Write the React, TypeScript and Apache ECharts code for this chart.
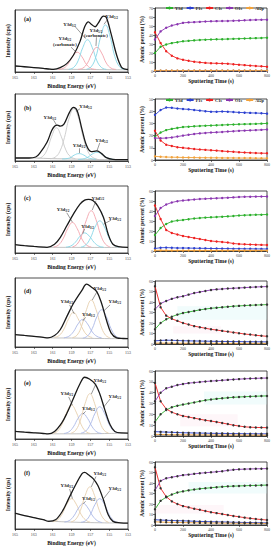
import React, { useEffect, useRef } from 'react';
import * as echarts from 'echarts';

// ---------- Depth profile data (atomic percent vs sputtering time) ----------
const timeS = [0, 40, 80, 120, 160, 200, 240, 280, 320, 360, 400, 440, 480, 520, 560, 600, 640, 680, 720, 760, 800];
const elementNames = ['Y3d', 'F1s', 'C1s', 'O1s', 'Al2p'];
const atomicMax = [70, 50, 60, 60, 60, 60];

const yA = [20, 27, 29.5, 31, 32, 33, 33.5, 34, 34.5, 34.8, 35, 35.2, 35.3, 35.5, 35.7, 35.9, 36.1, 36.3, 36.5, 36.7, 37];
const fA = [0.3, 0.3, 0.3, 0.3, 0.3, 0.3, 0.3, 0.3, 0.3, 0.3, 0.3, 0.3, 0.3, 0.3, 0.3, 0.3, 0.3, 0.3, 0.3, 0.3, 0.3];
const cA = [43, 31, 22, 17, 14, 12.5, 11.3, 10.3, 9.6, 9, 8.7, 8.5, 8.3, 8.1, 7.5, 7, 6.5, 6, 5.6, 5.2, 4.8];
const oA = [35, 44, 48, 50.5, 52, 53.5, 54, 54.3, 54.6, 55, 55.2, 55.4, 55.5, 55.6, 55.8, 56, 56.3, 56.6, 56.8, 56.9, 57];
const alA = [0.5, 0.5, 0.5, 0.5, 0.5, 0.5, 0.5, 0.5, 0.5, 0.5, 0.5, 0.5, 0.5, 0.5, 0.5, 0.5, 0.5, 0.5, 0.5, 0.5, 0.5];

const yB = [19, 22.5, 24.5, 25.5, 26.3, 27, 27.3, 27.6, 27.9, 28.1, 28.3, 28.5, 28.7, 28.9, 29.1, 29.3, 29.4, 29.5, 29.6, 29.8, 30];
const fB = [37, 41, 43, 42.8, 42.2, 41.8, 41.5, 41, 40.5, 40, 39.6, 39.5, 39.8, 39.6, 39.3, 39, 38.8, 38.6, 38.5, 38.3, 38];
const cB = [24, 16, 12.5, 11.5, 10.5, 10, 9.5, 9, 8.6, 8.3, 8, 7.7, 7.3, 7, 6.7, 6.4, 6.1, 5.9, 5.7, 5.6, 5.5];
const oB = [18, 17.8, 18, 18.5, 19.2, 20, 20.7, 21.3, 21.8, 22.2, 22.5, 22.7, 23, 23.3, 23.6, 23.9, 24.1, 24.3, 24.5, 24.7, 25];
const alB = [3, 2.6, 2.4, 2.3, 2.2, 2.1, 2, 2, 1.9, 1.9, 1.8, 1.8, 1.7, 1.7, 1.7, 1.6, 1.6, 1.6, 1.5, 1.5, 1.5];

const yC = [16, 23, 27, 29.5, 30.5, 31, 31.8, 32.5, 33, 33.4, 33.7, 34, 34.3, 34.6, 35, 35.5, 35.8, 36, 36.2, 36.3, 36.5];
const fC = [2.5, 3.3, 3.4, 3.2, 3, 3, 2.9, 2.8, 2.7, 2.6, 2.5, 2.5, 2.4, 2.4, 2.3, 2.3, 2.2, 2.2, 2.1, 2.1, 2];
const cC = [45.5, 32, 21, 18, 16.5, 15, 14, 13, 12, 11, 10, 9.5, 9, 8.5, 7.5, 7, 6.7, 6.5, 6.3, 6.1, 6];
const oC = [35, 43, 46.5, 48.5, 49.8, 50.5, 51, 51.5, 52, 52.2, 52.5, 52.8, 53, 53.3, 53.6, 54, 54.2, 54.3, 54.4, 54.5, 54.5];
const alC = [0.6, 0.6, 0.6, 0.5, 0.5, 0.5, 0.5, 0.5, 0.5, 0.5, 0.5, 0.5, 0.5, 0.5, 0.5, 0.5, 0.5, 0.5, 0.5, 0.5, 0.5];

const yD = [14, 20, 23.5, 26, 28, 29.5, 30.5, 31.5, 32.5, 33.3, 34, 34.5, 35, 35.5, 36, 36.3, 36.6, 36.9, 37.1, 37.3, 37.5];
const fD = [3, 3.4, 3.6, 3.5, 3.3, 3.1, 3, 2.9, 2.8, 2.7, 2.6, 2.5, 2.4, 2.4, 2.3, 2.3, 2.2, 2.2, 2.1, 2.1, 2];
const cD = [55, 35, 27, 24, 22, 20, 18.5, 17, 16, 15, 14, 13.3, 12.5, 11.8, 11, 10.3, 9.5, 9, 8.3, 7.8, 7.3];
const oD = [33, 38.5, 41, 43, 44.5, 45.5, 47, 48.5, 49.5, 50.5, 51.5, 52, 52.4, 52.8, 53.1, 53.4, 53.7, 54, 54.3, 54.5, 54.7];
const alD = [0.8, 0.8, 0.8, 0.8, 0.7, 0.7, 0.7, 0.7, 0.7, 0.7, 0.7, 0.6, 0.6, 0.6, 0.6, 0.6, 0.6, 0.6, 0.6, 0.6, 0.6];

const yE = [13, 20, 24, 26.5, 28, 29, 30, 31, 32, 33, 33.7, 34.3, 34.8, 35.3, 35.7, 36, 36.3, 36.5, 36.7, 36.9, 37];
const fE = [4, 3.8, 3.6, 3.4, 3.2, 3, 2.9, 2.8, 2.7, 2.6, 2.5, 2.4, 2.4, 2.3, 2.2, 2.2, 2.1, 2.1, 2, 2, 2];
const cE = [49, 32, 25, 22, 20, 18.5, 17.5, 16.5, 15.5, 14.5, 13.8, 13, 12, 11, 10, 9.2, 8.5, 8.1, 7.9, 7.8, 7.7];
const oE = [32, 40, 44, 45.5, 47, 48, 48.8, 49.3, 49.8, 50.3, 50.7, 51, 51.4, 51.8, 52.2, 52.5, 52.8, 53, 53.2, 53.4, 53.5];
const alE = [1.5, 1.4, 1.3, 1.2, 1.2, 1.1, 1.1, 1, 1, 1, 1, 0.9, 0.9, 0.9, 0.9, 0.9, 0.8, 0.8, 0.8, 0.8, 0.8];

const yF = [15, 23, 26.5, 29, 31, 32, 33, 33.8, 34.5, 35, 35.5, 36, 36.4, 36.8, 37, 37.2, 37.4, 37.6, 37.7, 37.9, 38];
const fF = [5, 4.7, 4.5, 4.3, 4.1, 4, 3.8, 3.6, 3.4, 3.3, 3.1, 3, 2.9, 2.8, 2.6, 2.5, 2.4, 2.3, 2.2, 2.1, 2];
const cF = [55, 35, 27, 22.5, 20, 18, 16.8, 15.5, 14.5, 13.3, 12.2, 11.3, 10.4, 9.5, 8.6, 7.8, 7, 6.3, 5.7, 5.2, 4.7];
const oF = [33, 42, 44.5, 45.5, 46.5, 47.5, 48, 48.7, 49.3, 49.8, 50.2, 50.7, 51.2, 52, 52.6, 53, 53.2, 53.4, 53.5, 53.6, 53.7];
const alF = [3, 2.8, 2.6, 2.5, 2.4, 2.3, 2.2, 2.1, 2, 2, 1.9, 1.9, 1.8, 1.8, 1.7, 1.7, 1.6, 1.6, 1.6, 1.5, 1.5];

// ---------- XPS Y3d spectra: [binding energy (eV), intensity (a.u.)] ----------
const envA = [[165, 9.7], [164, 8.5], [163, 7.2], [162, 5.8], [161.3, 4.6], [160.9, 4.3], [160.2, 7], [159.5, 13.5], [158.8, 27], [158.1, 49], [157.6, 73], [157.2, 81], [156.9, 77], [156.5, 73], [156.2, 78], [155.6, 90], [155.3, 88], [154.8, 62], [154.2, 27], [153.7, 8], [153.3, 4.5], [153, 4]];
const bgA = [[165, 9.7], [163, 7], [161, 4.6], [159, 4.3], [157, 4], [155, 3.7], [153, 3.5]];
const pkA1 = [[160.4, 4.2], [159.9, 5.7], [159.4, 12], [158.9, 24.7], [158.4, 32], [157.9, 24.7], [157.4, 12], [156.9, 5.7], [156.4, 4.2]];
const pkA2 = [[159.3, 4.3], [158.8, 7], [158.3, 18], [157.8, 39.5], [157.3, 52], [156.8, 39.5], [156.3, 18], [155.8, 7], [155.3, 4.3]];
const pkA3 = [[158.3, 4.3], [157.8, 6.2], [157.3, 14.4], [156.8, 30.6], [156.3, 40], [155.8, 30.6], [155.3, 14.4], [154.8, 6.2], [154.3, 4.2]];
const pkA4 = [[157.4, 4.5], [156.9, 8.5], [156.4, 25], [155.9, 57], [155.4, 76], [154.9, 57], [154.4, 25], [153.9, 8.5], [153.4, 4]];

const envB = [[165, 4.5], [163.5, 4.5], [162.8, 6], [162.4, 11], [161.6, 28], [161.1, 45.5], [160.8, 52], [160.5, 53.5], [160.2, 52], [159.8, 55], [159.2, 73], [158.8, 80], [158.4, 75], [157.9, 48], [157.4, 23], [156.9, 14], [156.3, 15], [155.8, 11], [155.3, 5], [154.6, 2.5], [153, 2]];
const bgB = [[165, 4.5], [163, 4.5], [162, 4], [161, 3.5], [159, 3], [157, 2.4], [155, 2], [153, 2]];
const pkB1 = [[162.6, 3.8], [162.1, 6.3], [161.6, 16.5], [161.1, 37], [160.6, 49.5], [160.1, 37], [159.6, 16.5], [159.1, 6.3], [158.6, 3.5]];
const pkB2 = [[161.25, 3.4], [160.75, 5.5], [160.25, 14], [159.75, 35], [159.25, 64], [158.75, 78], [158.25, 64], [157.75, 35], [157.25, 14], [156.75, 5.3], [156.25, 2.8]];
const pkB3 = [[160, 3], [159.2, 4.5], [158.7, 8.9], [158.2, 11], [157.7, 8.9], [157.2, 4.5], [156.4, 2.6]];
const pkB4 = [[158.3, 2.4], [157.8, 3], [157.3, 5.4], [156.8, 10.3], [156.3, 13], [155.8, 10.3], [155.3, 5.4], [154.8, 2.9], [154.3, 2.1]];

const envC = [[165, 12.4], [164, 11], [163, 9.8], [162, 8.7], [161.6, 8.4], [160.8, 13], [160.2, 23], [159.5, 40.6], [158.8, 58], [158.1, 73], [157.6, 79], [157.2, 80], [156.7, 78], [156.2, 70], [155.6, 53], [155.1, 28], [154.6, 13], [154, 9.4], [153, 8.4]];
const bgC = [[165, 12.4], [163, 10], [161.6, 8.5], [159, 8.4], [157, 8.3], [155, 8.3], [153, 8.3]];
const pkC1 = [[160.9, 8.9], [160.4, 11.7], [159.9, 21], [159.4, 36.5], [158.9, 45.5], [158.4, 36.5], [157.9, 21], [157.4, 11.7], [156.9, 8.9]];
const pkC2 = [[159.6, 8.7], [159.1, 10.3], [158.6, 15.9], [158.1, 25], [157.6, 30], [157.1, 25], [156.6, 15.9], [156.1, 10.3], [155.6, 8.7]];
const pkC3 = [[158.9, 9], [158.4, 13.2], [157.9, 27], [157.4, 50], [156.9, 63], [156.4, 50], [155.9, 27], [155.4, 13.2], [154.9, 9]];
const pkC4 = [[158, 8.8], [157.5, 11.8], [157, 22], [156.5, 38.8], [156, 48], [155.5, 38.8], [155, 22], [154.5, 11.8], [154, 8.8]];

const envD = [[165, 18], [164, 16.7], [163, 15.5], [162, 14], [161.5, 13.3], [160.8, 16.7], [160.2, 25], [159.5, 44], [158.8, 63], [157.9, 82], [157.4, 91], [156.9, 87], [156.3, 80], [155.8, 63], [155.3, 39.5], [154.8, 20.5], [154.2, 13.3], [153.5, 12.3], [153, 12]];
const bgD = [[165, 18], [163, 15.5], [161.5, 13.3], [159, 13], [157, 12.5], [155, 12.2], [153, 12]];
const pkD1 = [[160.8, 14], [160.3, 16.7], [159.8, 26], [159.3, 41], [158.8, 50], [158.3, 41], [157.8, 26], [157.3, 16.7], [156.8, 13.8]];
const pkD2 = [[159.8, 13.4], [159.3, 15.4], [158.8, 22], [158.3, 33.5], [157.8, 40], [157.3, 33.5], [156.8, 22], [156.3, 15.4], [155.8, 13.3]];
const pkD3 = [[158.9, 13.5], [158.4, 17.3], [157.9, 31.5], [157.4, 54.5], [156.9, 68], [156.4, 54.5], [155.9, 31.5], [155.4, 17.3], [154.9, 13.2]];
const pkD4 = [[157.8, 12.8], [157.3, 15.9], [156.8, 26.5], [156.3, 44], [155.8, 54], [155.3, 44], [154.8, 26.5], [154.3, 15.9], [153.8, 12.6]];

const envE = [[165, 11], [164, 9.9], [163, 9], [162, 8], [161.5, 7.3], [160.8, 11], [160.05, 23], [159.5, 37], [158.8, 58.6], [158.1, 80], [157.6, 89.5], [157.1, 87], [156.5, 80], [156, 65.7], [155.5, 44], [154.9, 20.5], [154.4, 11], [153.7, 8.8], [153, 8.6]];
const bgE = [[165, 11], [163, 9.3], [161.5, 7.5], [159, 7.5], [157, 7.6], [155, 8], [153, 8.3]];
const pkE1 = [[161, 8.1], [160.5, 11.2], [160, 21.6], [159.5, 39], [159, 49], [158.5, 39], [158, 21.6], [157.5, 11.2], [157, 8]];
const pkE2 = [[159.8, 8], [159.3, 10.2], [158.8, 17.6], [158.3, 30], [157.8, 37], [157.3, 30], [156.8, 17.6], [156.3, 10.2], [155.8, 8]];
const pkE3 = [[159.05, 8.3], [158.55, 12.7], [158.05, 27.5], [157.55, 51.7], [157.05, 65.7], [156.55, 51.7], [156.05, 27.5], [155.55, 12.7], [155.05, 8.5]];
const pkE4 = [[158, 8.5], [157.5, 11.4], [157, 21.2], [156.5, 37.4], [156, 46.7], [155.5, 37.4], [155, 21.2], [154.5, 11.4], [154, 8.7]];

const envF = [[165, 23], [164, 19.5], [163, 16.5], [162, 13.5], [161.4, 11], [160.7, 13.3], [160, 25], [159.3, 44], [158.6, 63], [157.9, 80], [157.6, 82], [157.2, 78.6], [156.7, 73], [156.2, 63], [155.6, 42], [155.1, 20.5], [154.6, 11], [153.8, 9], [153, 8.6]];
const bgF = [[165, 23], [164, 19.5], [163, 16.5], [162, 13.5], [161.2, 11.5], [159, 10], [157, 9.3], [155, 8.8], [153, 8.6]];
const pkF1 = [[161, 10.6], [160.5, 13], [160, 21.6], [159.5, 36], [159, 44], [158.5, 36], [158, 21.6], [157.5, 13], [157, 9.8]];
const pkF2 = [[159.75, 10.1], [159.25, 12.1], [158.75, 18.9], [158.25, 30.4], [157.75, 37], [157.25, 30.4], [156.75, 18.9], [156.25, 12], [155.75, 9.3]];
const pkF3 = [[159.05, 10.2], [158.55, 14], [158.05, 27], [157.55, 48.5], [157.05, 61], [156.55, 48.5], [156.05, 27], [155.55, 14], [155.05, 9.5]];
const pkF4 = [[158, 9.7], [157.5, 12], [157, 21], [156.5, 35.6], [156, 44], [155.5, 35.6], [155, 21], [154.5, 12], [154, 9]];

const panelTags = ['(a)', '(b)', '(c)', '(d)', '(e)', '(f)'];

// ---------- annotations (label text + anchor / pointer in data coords) ----------
type Ann = { t: string; carb?: boolean; x: number; y: number; p: number[] };
const annotations: Ann[][] = [
  [
    { t: '3/2', x: 159.2, y: 77, p: [158.6, 73, 157.5, 54] },
    { t: '3/2', carb: true, x: 159.7, y: 49, p: [159.05, 40, 158.5, 32] },
    { t: '5/2', carb: true, x: 156.4, y: 63, p: [156.35, 56, 156.4, 42] },
    { t: '5/2', x: 154.75, y: 90, p: [155.1, 86, 155.55, 77] },
  ],
  [
    { t: '3/2', x: 161.3, y: 65, p: [160.9, 61, 160.6, 54] },
    { t: '5/2', x: 157.5, y: 81, p: [158.1, 78, 158.5, 74] },
    { t: '3/2', x: 158.2, y: 23, p: [158.2, 19, 158.2, 12] },
    { t: '5/2', x: 155.8, y: 31, p: [156, 27, 156.3, 15] },
  ],
  [
    { t: '3/2', x: 159.9, y: 65, p: [159.5, 60, 158.9, 46] },
    { t: '3/2', x: 157.3, y: 39, p: [157.6, 36, 157.8, 29] },
    { t: '5/2', x: 156.2, y: 82, p: [156.4, 78, 156.8, 64] },
    { t: '5/2', x: 154.4, y: 51, p: [154.8, 49, 155.6, 43] },
  ],
  [
    { t: '3/2', x: 159.5, y: 66, p: [159.2, 61, 158.7, 48] },
    { t: '3/2', x: 157.2, y: 47, p: [157.5, 43, 157.8, 38] },
    { t: '5/2', x: 156.0, y: 85, p: [156.3, 80, 156.8, 68] },
    { t: '5/2', x: 154.4, y: 66, p: [154.9, 61, 155.6, 52] },
  ],
  [
    { t: '3/2', x: 159.5, y: 66, p: [159.3, 61, 158.9, 49] },
    { t: '3/2', x: 157.2, y: 44, p: [157.5, 40, 157.8, 36] },
    { t: '5/2', x: 156.0, y: 85, p: [156.4, 80, 156.9, 65] },
    { t: '5/2', x: 154.4, y: 61, p: [154.9, 58, 155.6, 46] },
  ],
  [
    { t: '3/2', x: 159.5, y: 63, p: [159.2, 58, 158.9, 44] },
    { t: '3/2', x: 157.2, y: 44, p: [157.5, 40, 157.75, 37] },
    { t: '5/2', x: 156.0, y: 80, p: [156.4, 76, 156.9, 61] },
    { t: '5/2', x: 154.4, y: 59, p: [154.9, 56, 155.6, 44] },
  ],
];

// faint highlight bands seen in panels (d)-(f): [x0, y0, x1, y1]
const bandsYM: (number[] | null)[] = [null, null, null, [160, 23, 800, 36], [350, 29, 800, 41], [240, 30, 800, 41]];
const bandsC1s: (number[] | null)[] = [null, null, null, [130, 10, 470, 17], [180, 9, 590, 20], [0, 11, 490, 19]];

const SERIF = '"Liberation Serif", "DejaVu Serif", serif';
const elementColors = ['#2bb02b', '#2a3fd0', '#ee2020', '#8a35b0', '#f2a23a'];
const PINK = '#f3a3ab', CYAN = '#86d6e6', GRAY = '#c9c9c9', BEIGE = '#e6cfae', LBLUE = '#aab8e6';

const leftLayout = [
  { top: 10, h: 62 }, { top: 94, h: 67 }, { top: 186, h: 67 },
  { top: 278, h: 69 }, { top: 370, h: 69 }, { top: 460, h: 69 },
];
const rightLayout = [
  { top: 8, h: 63 }, { top: 99, h: 61 }, { top: 191, h: 60 },
  { top: 281, h: 63 }, { top: 371, h: 65 }, { top: 462, h: 63 },
];
const tagTops = [11, 100, 190, 283, 375, 465];

function buildOption() {
  const spectra = [
    { env: envA, bg: bgA, pk: [pkA1, pkA2, pkA3, pkA4], col: [PINK, CYAN, PINK, CYAN] },
    { env: envB, bg: bgB, pk: [pkB1, pkB2, pkB3, pkB4], col: [GRAY, GRAY, CYAN, CYAN] },
    { env: envC, bg: bgC, pk: [pkC1, pkC2, pkC3, pkC4], col: [PINK, CYAN, PINK, CYAN] },
    { env: envD, bg: bgD, pk: [pkD1, pkD2, pkD3, pkD4], col: [BEIGE, LBLUE, BEIGE, LBLUE] },
    { env: envE, bg: bgE, pk: [pkE1, pkE2, pkE3, pkE4], col: [BEIGE, LBLUE, BEIGE, LBLUE] },
    { env: envF, bg: bgF, pk: [pkF1, pkF2, pkF3, pkF4], col: [BEIGE, LBLUE, BEIGE, LBLUE] },
  ];
  const profiles = [
    [yA, fA, cA, oA, alA], [yB, fB, cB, oB, alB], [yC, fC, cC, oC, alC],
    [yD, fD, cD, oD, alD], [yE, fE, cE, oE, alE], [yF, fF, cF, oF, alF],
  ];

  const grid: any[] = [], xAxis: any[] = [], yAxis: any[] = [], series: any[] = [], title: any[] = [];
  const axisLineStyle = { lineStyle: { color: '#222', width: 0.8 } };
  const nameStyle = { fontFamily: SERIF, fontWeight: 'bold', fontSize: 5.5, color: '#111' };
  const tickLabel = { fontFamily: SERIF, fontSize: 4, color: '#444' };

  for (let i = 0; i < 6; i++) {
    const L = leftLayout[i], R = rightLayout[i];
    grid.push({ left: 15, width: 113, top: L.top, height: L.h, show: true, borderColor: '#222', borderWidth: 0.8 });
    grid.push({ left: 155, width: 112, top: R.top, height: R.h, show: true, borderColor: '#222', borderWidth: 0.8 });

    xAxis.push({
      gridIndex: 2 * i, type: 'value', min: 153, max: 165, interval: 2, inverse: true,
      axisLine: axisLineStyle, axisTick: { length: 2, lineStyle: { width: 0.6 } },
      axisLabel: { ...tickLabel, margin: 3 }, splitLine: { show: false },
      name: 'Binding Energy (eV)', nameLocation: 'middle', nameGap: 11, nameTextStyle: nameStyle,
    });
    yAxis.push({
      gridIndex: 2 * i, type: 'value', min: 0, max: 100,
      axisLine: axisLineStyle, axisTick: { show: false }, axisLabel: { show: false }, splitLine: { show: false },
      name: 'Intensity (cps)', nameLocation: 'middle', nameGap: 4, nameRotate: 90, nameTextStyle: nameStyle,
    });
    xAxis.push({
      gridIndex: 2 * i + 1, type: 'value', min: 0, max: 800, interval: 200,
      axisLine: axisLineStyle, axisTick: { length: 2, lineStyle: { width: 0.6 } },
      axisLabel: { ...tickLabel, margin: 2.5 }, splitLine: { show: false },
      name: 'Sputtering Time (s)', nameLocation: 'middle', nameGap: 7, nameTextStyle: nameStyle,
    });
    yAxis.push({
      gridIndex: 2 * i + 1, type: 'value', min: 0, max: atomicMax[i], interval: 10,
      axisLine: axisLineStyle, axisTick: { length: 2, lineStyle: { width: 0.6 } },
      axisLabel: { ...tickLabel, margin: 2 }, splitLine: { show: false },
      name: 'Atomic percent (%)', nameLocation: 'middle', nameGap: 8, nameRotate: 90, nameTextStyle: nameStyle,
    });

    title.push({ text: panelTags[i], left: 19, top: tagTops[i], textStyle: { fontFamily: SERIF, fontWeight: 'bold', fontSize: 6, color: '#111' } });

    const sp = spectra[i];
    series.push({
      type: 'line', xAxisIndex: 2 * i, yAxisIndex: 2 * i, data: sp.bg, smooth: 0.3, symbol: 'none',
      lineStyle: { color: '#9a9a9a', width: 0.6 }, silent: true, z: 1,
    });
    sp.pk.forEach((pk, k) => {
      series.push({
        type: 'line', xAxisIndex: 2 * i, yAxisIndex: 2 * i, data: pk, smooth: 0.45, symbol: 'none',
        lineStyle: { color: sp.col[k], width: 0.9 }, silent: true, z: 2,
      });
    });
    const anns = annotations[i];
    series.push({
      type: 'line', xAxisIndex: 2 * i, yAxisIndex: 2 * i, data: sp.env, smooth: 0.35, symbol: 'none',
      lineStyle: { color: '#1a1a1a', width: 1.3 }, silent: true, z: 3,
      markLine: {
        silent: true, symbol: ['none', 'none'], label: { show: false },
        lineStyle: { color: '#333', width: 0.5, type: 'solid' },
        data: anns.map((a) => [{ coord: [a.p[0], a.p[1]] }, { coord: [a.p[2], a.p[3]] }]),
      },
      markPoint: {
        silent: true, symbol: 'circle', symbolSize: 0,
        data: anns.map((a) => ({
          coord: [a.x, a.y],
          label: {
            show: true, position: 'inside',
            formatter: '{m|Y3d}{s|' + a.t + '}' + (a.carb ? '\n{m|(carbonate)}' : ''),
            rich: {
              m: { fontFamily: SERIF, fontWeight: 'bold', fontSize: 4.8, color: '#222', lineHeight: 5.5 },
              s: { fontFamily: SERIF, fontWeight: 'bold', fontSize: 3.3, color: '#222', padding: [2.5, 0, 0, 0] },
            },
          },
        })),
      },
    });

    const prof = profiles[i];
    prof.forEach((vals, k) => {
      const s: any = {
        name: elementNames[k], type: 'line', xAxisIndex: 2 * i + 1, yAxisIndex: 2 * i + 1,
        data: timeS.map((t, j) => [t, vals[j]]),
        symbol: 'circle', symbolSize: 2.4,
        lineStyle: { color: elementColors[k], width: 0.9 },
        itemStyle: { color: i >= 3 ? '#333' : elementColors[k] },
        silent: true, z: 3,
      };
      const band = k === 0 ? bandsYM[i] : k === 2 ? bandsC1s[i] : null;
      if (band) {
        s.markArea = {
          silent: true,
          itemStyle: { color: k === 0 ? 'rgba(200,245,245,0.25)' : 'rgba(252,220,232,0.25)' },
          data: [[{ coord: [band[0], band[1]] }, { coord: [band[2], band[3]] }]],
        };
      }
      series.push(s);
    });
  }

  const legendBase = {
    data: elementNames.map((n, k) => ({ name: n, itemStyle: { color: elementColors[k] } })),
    itemWidth: 7, itemHeight: 3.5, itemGap: 3, selectedMode: false, width: 140,
    textStyle: { fontFamily: SERIF, fontWeight: 'bold', fontSize: 4.3, color: '#222', padding: [0, 0, 0, -3] },
  };

  return {
    animation: false,
    backgroundColor: '#ffffff',
    title,
    legend: [
      { ...legendBase, left: 160, top: 1 },
      { ...legendBase, left: 160, top: 93 },
    ],
    grid, xAxis, yAxis, series,
  };
}

export default function App() {
  const ref = useRef<HTMLDivElement>(null);
  useEffect(() => {
    document.body.style.margin = '0';
    if (!ref.current) return;
    const chart = echarts.init(ref.current, null, { renderer: 'svg' });
    chart.setOption(buildOption() as any);
    return () => chart.dispose();
  }, []);
  return <div ref={ref} style={{ width: 274, height: 550 }} />;
}
